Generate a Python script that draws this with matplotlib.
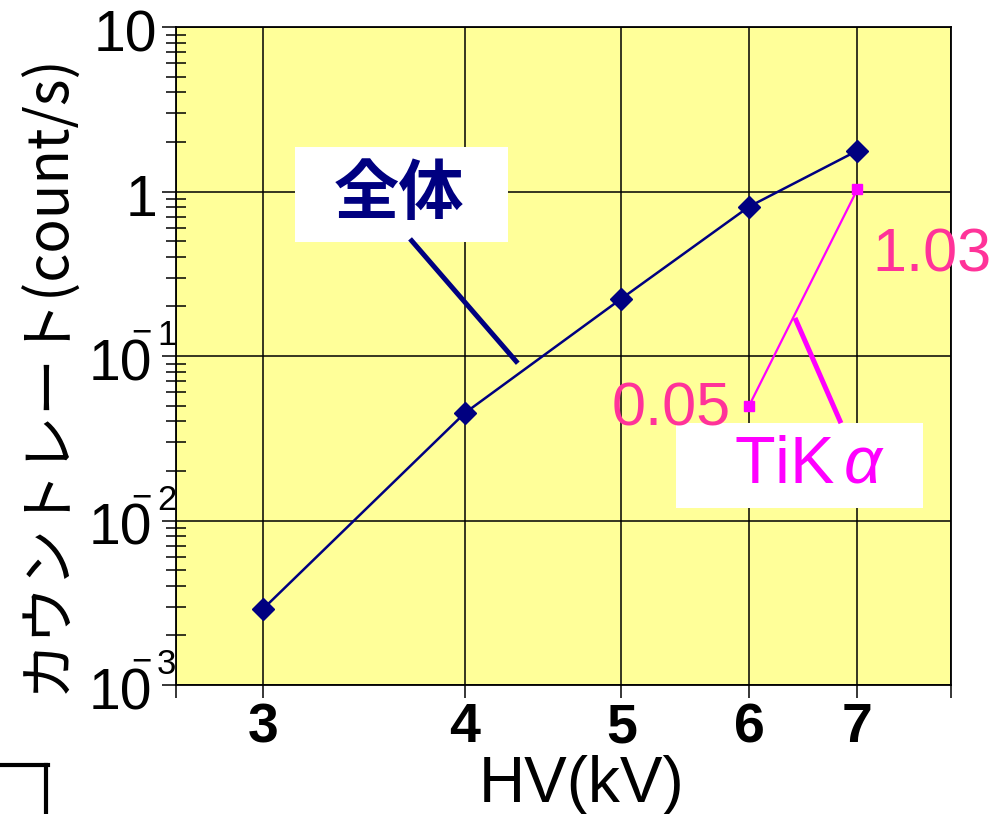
import numpy as np
import matplotlib
matplotlib.use("Agg")
import matplotlib.pyplot as plt
import matplotlib.ticker as mticker
from matplotlib.patches import Rectangle
from matplotlib.lines import Line2D

# data
hv = [3, 4, 5, 6, 7]
total_rate = [0.0029, 0.045, 0.223, 0.81, 1.77]
tika_hv = [6, 7]
tika_rate = [0.05, 1.03]
tika_labels = ["0.05", "1.03"]

x_ticks = [3, 4, 5, 6, 7]
y_ticks = [1e-3, 1e-2, 1e-1, 1, 10]
y_tick_base = ["10", "10", "10", "1", "10"]
y_tick_exp = ["3", "2", "1", "", ""]

plt.rcParams["font.family"] = ["Liberation Sans", "DejaVu Sans"]
plt.rcParams["mathtext.fontset"] = "custom"
plt.rcParams["mathtext.rm"] = "Liberation Sans"
plt.rcParams["mathtext.it"] = "Liberation Sans:italic"

NAVY = "#000080"
MAGENTA = "#FF00FF"
PINK = "#FF3399"
YELLOW = "#FFFF99"
JP = ["Noto Sans CJK JP", "DejaVu Sans"]

fig = plt.figure(figsize=(9.94, 8.14), dpi=100)
ax = fig.add_axes([176 / 994, 129 / 814, 775 / 994, 658 / 814])
ax.set_facecolor(YELLOW)
ax.set_xscale("log")
ax.set_yscale("log")
x_lo, x_hi = 2.65, 8.0
ax.set_xlim(x_lo, x_hi)
ax.set_ylim(1e-3, 10)

# x ticks: labelled ones plus the two ends
ax.xaxis.set_major_locator(mticker.FixedLocator([x_lo] + x_ticks + [x_hi]))
ax.xaxis.set_major_formatter(mticker.FixedFormatter([""] + [str(v) for v in x_ticks] + [""]))
ax.xaxis.set_minor_locator(mticker.NullLocator())
ax.tick_params(axis="x", which="major", direction="out", length=9.5, width=1.1,
               pad=3, labelsize=40)
for lab in ax.get_xticklabels():
    lab.set_fontweight("bold")

ax.yaxis.set_major_locator(mticker.FixedLocator(y_ticks))
ax.yaxis.set_major_formatter(mticker.NullFormatter())
ax.yaxis.set_minor_locator(mticker.LogLocator(base=10, subs=np.arange(2, 10)))
ax.yaxis.set_minor_formatter(mticker.NullFormatter())
ax.tick_params(axis="y", which="major", direction="out", length=10, width=1.1)
ax.tick_params(axis="y", which="minor", direction="inout", length=14, width=1.1)

# y tick labels drawn by hand: "10" with a small raised exponent and bar
ytr = ax.get_yaxis_transform()
for yv, base, ex in zip(y_ticks, y_tick_base, y_tick_exp):
    dx = -17.3 if ex else -13.7
    ax.annotate(base, xy=(0, yv), xycoords=ytr, xytext=(dx, -17.3),
                textcoords="offset points", ha="right", va="baseline",
                fontsize=41, annotation_clip=False)
    if ex:
        ax.annotate(ex, xy=(0, yv), xycoords=ytr, xytext=(-13.7, 7.9),
                    textcoords="offset points", ha="left", va="baseline",
                    fontsize=25, annotation_clip=False)
        ax.annotate("\u2212", xy=(0, yv), xycoords=ytr, xytext=(-32, 9.4),
                    textcoords="offset points", ha="left", va="baseline",
                    fontsize=25, annotation_clip=False)

ax.grid(True, which="major", color="black", linewidth=1.1)
ax.set_axisbelow(True)
for sp in ax.spines.values():
    sp.set_linewidth(1.3)

ax.plot(hv, total_rate, color=NAVY, linewidth=1.8, marker="D", markersize=11,
        zorder=5)
ax.plot(tika_hv, tika_rate, color=MAGENTA, linewidth=1.6, marker="s",
        markersize=7, zorder=5)

ax.annotate(tika_labels[0], xy=(tika_hv[0], tika_rate[0]), xytext=(-13, -3),
            textcoords="offset points", ha="right", va="center",
            fontsize=44, color=PINK, zorder=7)
ax.annotate(tika_labels[1], xy=(tika_hv[1], tika_rate[1]), xytext=(11, -48),
            textcoords="offset points", ha="left", va="center",
            fontsize=44, color=PINK, zorder=7, annotation_clip=False)

# label boxes
ax.add_patch(Rectangle((0.1535, 0.6733), 0.2745, 0.1443, transform=ax.transAxes,
                       facecolor="white", edgecolor="none", zorder=4))
ax.text(0.288, 0.746, "全体", transform=ax.transAxes, ha="center", va="center",
        fontsize=47, fontweight="bold", color=NAVY, family=JP, zorder=6)
ax.plot([0.302, 0.441], [0.678, 0.489], transform=ax.transAxes, color=NAVY,
        linewidth=3.6, solid_capstyle="butt", zorder=6)

ax.add_patch(Rectangle((0.645, 0.269), 0.319, 0.129, transform=ax.transAxes,
                       facecolor="white", edgecolor="none", zorder=4))
ax.text(0.817, 0.333, r"TiK$\,\alpha$", transform=ax.transAxes, ha="center",
        va="center", fontsize=48, color=MAGENTA, zorder=6)
ax.plot([0.7987, 0.858], [0.5578, 0.398], transform=ax.transAxes, color=MAGENTA,
        linewidth=3.6, solid_capstyle="butt", zorder=6)

fig.text(47 / 994, 1 - 373 / 814, "カウントレート(count/s)", rotation=90,
         ha="center", va="center", fontsize=41, family=JP)
fig.text(582 / 994, 1 - 785 / 814, "HV(kV)", ha="center", va="center",
         fontsize=46)

# bracket in the lower left corner
fig.add_artist(Line2D([0, 48 / 994], [1 - 765 / 814] * 2, color="black",
                      linewidth=3, transform=fig.transFigure))
fig.add_artist(Line2D([46 / 994] * 2, [1 - 765 / 814, 0], color="black",
                      linewidth=3, transform=fig.transFigure))

fig.savefig("out.png", dpi=100)
